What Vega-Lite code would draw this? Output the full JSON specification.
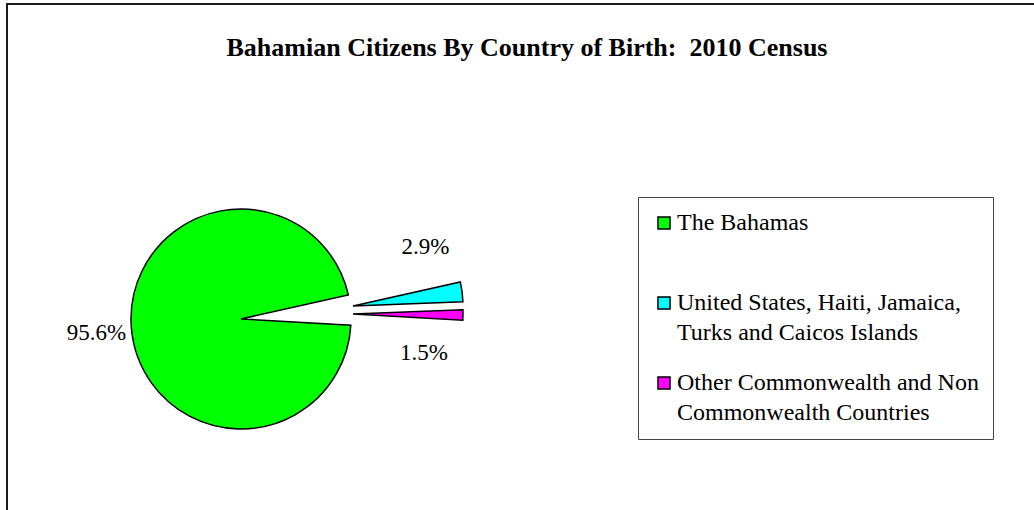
{
  "$schema": "https://vega.github.io/schema/vega-lite/v6.json",
  "width": 1040,
  "height": 520,
  "autosize": {"type": "none"},
  "padding": {"left": 7, "top": 4, "right": -13, "bottom": -14},
  "background": "white",
  "config": {
    "view": {"stroke": null},
    "font": "Liberation Serif",
    "style": {"guide-label": {"lineHeight": 30}}
  },
  "title": {
    "text": "Bahamian Citizens By Country of Birth:\u00a0 2010 Census",
    "font": "Liberation Serif",
    "fontSize": 26,
    "fontWeight": "bold",
    "color": "black",
    "anchor": "middle",
    "frame": "group",
    "baseline": "alphabetic",
    "offset": -54,
    "dy": 25,
    "dx": 0
  },
  "data": {
    "values": [
      {"country": "The Bahamas", "pct": 95.6, "label": "95.6%"},
      {"country": "United States, Haiti, Jamaica, Turks and Caicos Islands", "pct": 2.9, "label": "2.9%"},
      {"country": "Other Commonwealth and Non Commonwealth Countries", "pct": 1.5, "label": "1.5%"}
    ]
  },
  "layer": [
    {
      "mark": {"type": "rect", "fillOpacity": 0, "stroke": "#1a1a1a", "strokeWidth": 1.6},
      "encoding": {}
    },
    {
      "encoding": {
        "theta": {"field": "pct", "type": "quantitative", "stack": true, "scale": {"range": [1.6267, 7.9099]}},
        "order": {"field": "pct", "sort": "descending"}
      },
      "layer": [
        {
          "mark": {"type": "arc", "radius": 110, "stroke": "black", "strokeWidth": 1.5, "xOffset": -286, "yOffset": 55},
          "encoding": {
            "color": {
              "field": "country",
              "type": "nominal",
              "scale": {
                "domain": ["The Bahamas", "United States, Haiti, Jamaica, Turks and Caicos Islands", "Other Commonwealth and Non Commonwealth Countries"],
                "range": ["#00FF00", "#00FFFF", "#FF00FF"]
              },
              "legend": {
                "title": null,
                "orient": "none",
                "legendX": 631,
                "legendY": 193,
                "padding": 14,
                "strokeColor": "#444444",
                "fillColor": "white",
                "symbolType": "square",
                "symbolSize": 144,
                "symbolStrokeColor": "black",
                "symbolStrokeWidth": 1.5,
                "labelFont": "Liberation Serif",
                "labelFontSize": 24,
                "labelColor": "black",
                "labelLimit": 500,
                "labelOffset": 1,
                "rowPadding": 26,
                "labelExpr": "datum.label == 'The Bahamas' ? ['The Bahamas', ''] : datum.label == 'Other Commonwealth and Non Commonwealth Countries' ? ['Other Commonwealth and Non', 'Commonwealth Countries'] : ['United States, Haiti, Jamaica,', 'Turks and Caicos Islands']"
              }
            },
            "opacity": {"condition": {"test": "datum.country === 'The Bahamas'", "value": 1}, "value": 0}
          }
        },
        {
          "mark": {"type": "arc", "radius": 110, "stroke": "black", "strokeWidth": 1.5, "xOffset": -174, "yOffset": 42},
          "encoding": {
            "color": {"field": "country", "type": "nominal"},
            "opacity": {"condition": {"test": "datum.country === 'United States, Haiti, Jamaica, Turks and Caicos Islands'", "value": 1}, "value": 0}
          }
        },
        {
          "mark": {"type": "arc", "radius": 110, "stroke": "black", "strokeWidth": 1.5, "xOffset": -174, "yOffset": 50},
          "encoding": {
            "color": {"field": "country", "type": "nominal"},
            "opacity": {"condition": {"test": "datum.country === 'Other Commonwealth and Non Commonwealth Countries'", "value": 1}, "value": 0}
          }
        },
        {
          "mark": {"type": "text", "radius": 145, "xOffset": -286, "yOffset": 57, "font": "Liberation Serif", "fontSize": 23, "color": "black", "baseline": "middle", "align": "center"},
          "encoding": {
            "text": {"field": "label"},
            "detail": {"field": "country"},
            "opacity": {"condition": {"test": "datum.country === 'The Bahamas'", "value": 1}, "value": 0}
          }
        },
        {
          "mark": {"type": "text", "radius": 186, "xOffset": -286, "yOffset": 7, "font": "Liberation Serif", "fontSize": 23, "color": "black", "baseline": "middle", "align": "center"},
          "encoding": {
            "text": {"field": "label"},
            "detail": {"field": "country"},
            "opacity": {"condition": {"test": "datum.country === 'United States, Haiti, Jamaica, Turks and Caicos Islands'", "value": 1}, "value": 0}
          }
        },
        {
          "mark": {"type": "text", "radius": 183, "xOffset": -286, "yOffset": 87.5, "font": "Liberation Serif", "fontSize": 23, "color": "black", "baseline": "middle", "align": "center"},
          "encoding": {
            "text": {"field": "label"},
            "detail": {"field": "country"},
            "opacity": {"condition": {"test": "datum.country === 'Other Commonwealth and Non Commonwealth Countries'", "value": 1}, "value": 0}
          }
        }
      ]
    }
  ]
}
